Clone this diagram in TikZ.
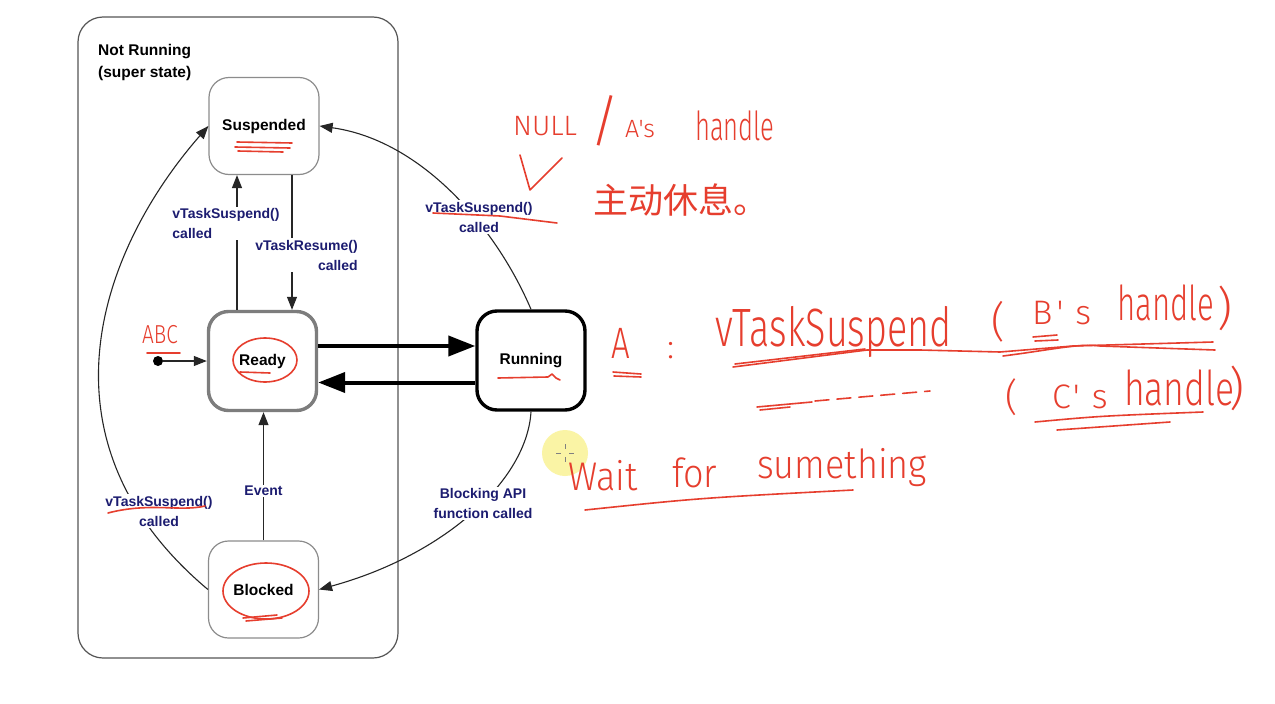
\documentclass[tikz,border=0pt]{standalone}
\usepackage{fontspec}
\usepackage{graphicx}
\setmainfont{Liberation Sans}
\newfontfamily\cjkfont{Noto Sans CJK SC}
\newfontfamily\handfont{Fira Sans}[UprightFont={* Light}]
\usetikzlibrary{arrows.meta, positioning, calc}

\definecolor{lblnavy}{RGB}{28,28,112}
\definecolor{inkred}{RGB}{230,62,46}
\definecolor{framegray}{RGB}{85,85,85}
\definecolor{boxgray}{RGB}{140,140,140}
\definecolor{readygray}{RGB}{125,125,125}
\definecolor{cursoryellow}{RGB}{250,243,150}

\newcommand{\squeezed}[2]{\scalebox{#1}[1]{#2}}

\begin{document}
\begin{tikzpicture}[x=1pt, y=-1pt,
  every node/.style={align=center},
  arr/.style={-{Triangle[length=13pt, width=10pt]}, line width=1.1pt, draw=black!85},
  fatarr/.style={-{Triangle[length=27pt, width=20pt]}, line width=4pt},
  state/.style={rectangle, rounded corners=20pt, draw=boxgray, line width=1.2pt, fill=white,
                minimum width=110pt, minimum height=97pt, font=\fontsize{15.5}{18}\selectfont\bfseries},
  hotstate/.style={state, line width=3.4pt, minimum width=108pt, minimum height=99pt},
  lbl/.style={font=\fontsize{14}{20}\selectfont\bfseries, text=lblnavy, fill=white, inner sep=1.5pt},
  ink/.style={draw=inkred, line width=1.6pt, line cap=round, line join=round},
  hand/.style={text=inkred, inner sep=0pt, anchor=base west},
]

\fill[white] (0,0) rectangle (1275,704);
\useasboundingbox (0,0) rectangle (1275,704);

% ------------------------------------------------------------- super state
\node[draw=framegray, line width=1.2pt, rounded corners=25pt,
      minimum width=320pt, minimum height=641pt] (notrun) at (238,337.5) {};
\node[anchor=north west, align=left, inner sep=0pt,
      font=\fontsize{15.5}{22}\selectfont\bfseries] (nrtitle) at (98,44) {Not Running\\(super state)};

% ------------------------------------------------------------------ states
\node[state] (susp) at (264,126) {Suspended};
\node[hotstate, draw=readygray] (ready) at (262.5,361) {Ready};
\node[hotstate, draw=black] (run) at (531,360.5) {Running};
\node[state] (blk) at (263.5,589.5) {Blocked};

\node[circle, fill=black, minimum size=10pt, inner sep=0pt] (init) at (158,361) {};

% -------------------------------------------------------------- connectors
\draw[arr] (init) -- (ready);
\draw[arr] ([xshift=-25.5pt]ready.north) -- ([xshift=-25.5pt]ready.north |- susp.south);
\draw[arr] ([xshift=28pt]susp.south) -- ([xshift=28pt]susp.south |- ready.north);
\draw[fatarr] ([yshift=15pt]ready.east) -- ([yshift=15pt]ready.east -| run.west);
\draw[fatarr] ([yshift=-22pt]run.west) -- ([yshift=-22pt]run.west -| ready.east);
\draw[arr] (blk.north) -- (blk.north |- ready.south);
\draw[arr] (run.north) .. controls (495,225) and (420,140) .. (susp.east);
\draw[arr] (run.south) .. controls (527,480) and (445,555) .. (blk.east);
\draw[arr] (blk.west) .. controls (30,440) and (100,250) .. (susp.west);

% ------------------------------------------------------------------ labels
\node[lbl, align=left]  (lsusp)   at (226,223.5) {vTaskSuspend()\\called};
\node[lbl, align=right] (lresume) at (306.5,255) {vTaskResume()\\called};
\node[lbl] (lsuspr) at (479,217)   {vTaskSuspend()\\called};
\node[lbl] (lblock) at (483,503.5) {Blocking API\\function called};
\node[lbl] (lsuspl) at (159,511)   {vTaskSuspend()\\called};
\node[lbl] (levent) at (263.5,491) {Event};

% ------------------------------------------------------- cursor highlight
\fill[cursoryellow, opacity=0.85] (565,453) circle [radius=23];
\draw[gray, line width=0.6pt] (556,453) -- (561,453) (569,453) -- (574,453)
      (565,444) -- (565,449) (565,457) -- (565,462);

% --------------------------------------------------------------- red ink
% marks on the diagram
\draw[ink] (237,142) -- (292,143) (235,147) -- (290,148) (238,151) -- (283,152);
\draw[ink] (265,360) ellipse [x radius=32, y radius=22];
\draw[ink] (240,372) -- (270,373);
\draw[ink] (498,378) -- (548,377) -- (552,374) -- (556,378) -- (560,380);
\draw[ink] (266,591) ellipse [x radius=43, y radius=28];
\draw[ink] (243,618) -- (277,615) (246,621) -- (282,618);
\draw[ink] (433,213) -- (500,216) -- (557,223);
\draw[ink] (108,513) .. controls (150,502) and (180,512) .. (205,506);
\draw[ink] (147,353) -- (180,353);
\node[hand, font=\handfont\fontsize{26}{26}\selectfont] (habc) at (142,343) {\squeezed{0.8}{ABC}};

% notes beside the diagram
\node[hand, font=\handfont\fontsize{28}{28}\selectfont] (hnull)   at (513,135) {NULL};
\node[hand, font=\handfont\fontsize{56}{56}\selectfont] (hslash)  at (590,140) {/};
\node[hand, font=\handfont\fontsize{25}{25}\selectfont] (haps)    at (625,137) {A's};
\node[hand, font=\handfont\fontsize{40}{40}\selectfont] (hhandle) at (695,140) {\squeezed{0.64}{handle}};
\draw[ink] (520,155) -- (530,190) -- (562,158);
\node[hand, anchor=west, font=\cjkfont\fontsize{35}{35}\selectfont] (hrest) at (593,200) {主动休息。};

\node[hand, font=\handfont\fontsize{44}{44}\selectfont] (ha)      at (611,358) {\squeezed{0.75}{A}};
\node[hand, font=\handfont\fontsize{34}{34}\selectfont] (hcolon)  at (667,358) {:};
\node[hand, font=\handfont\fontsize{54}{54}\selectfont] (hfn)     at (715,346) {\squeezed{0.7}{vTaskSuspend}};
\node[hand, font=\handfont\fontsize{42}{42}\selectfont] (hpar1)   at (991,336) {(};
\node[hand, font=\handfont\fontsize{34}{34}\selectfont] (hb)      at (1032,324) {B\kern4pt'\kern12pt s};
\node[hand, font=\handfont\fontsize{48}{48}\selectfont] (hhb)     at (1117,320) {\squeezed{0.65}{handle}};
\node[hand, font=\handfont\fontsize{46}{46}\selectfont] (hpar2)   at (1217,324) {)};
\draw[ink] (613,372) -- (641,374) (614,376) -- (641,377);
\draw[ink] (733,367) -- (867,350) -- (920,350) -- (1000,352) -- (1073,346) -- (1213,342);
\draw[ink] (735,364) -- (865,349);
\draw[ink] (1003,356) .. controls (1050,350) and (1080,343) .. (1100,346) -- (1215,350);
\draw[ink] (1033,337) -- (1057,335) (1035,341) -- (1058,340);

\draw[ink] (757,407) -- (812,402) (760,410) -- (790,407);
\draw[ink, dash pattern=on 14pt off 8pt] (815,401) -- (930,391);
\node[hand, font=\handfont\fontsize{38}{38}\selectfont] (hpar3)   at (1005,410) {(};
\node[hand, font=\handfont\fontsize{34}{34}\selectfont] (hc)      at (1052,408) {C\kern2pt'\kern12pt s};
\node[hand, font=\handfont\fontsize{48}{48}\selectfont] (hhc)     at (1124,405) {\squeezed{0.74}{handle}};
\node[hand, font=\handfont\fontsize{46}{46}\selectfont] (hpar4)   at (1229,404) {)};
\draw[ink] (1035,422) .. controls (1100,416) .. (1203,412);
\draw[ink] (1057,430) -- (1170,422);

\node[hand, font=\handfont\fontsize{40}{40}\selectfont] (hwait)   at (568,490) {\squeezed{0.9}{Wait}};
\node[hand, font=\handfont\fontsize{40}{40}\selectfont] (hfor)    at (672,487) {\squeezed{0.9}{for}};
\node[hand, font=\handfont\fontsize{40}{40}\selectfont] (hsome)   at (757,478) {\squeezed{0.9}{sumething}};
\draw[ink] (585,510) .. controls (700,498) .. (853,490);

\end{tikzpicture}
\end{document}
